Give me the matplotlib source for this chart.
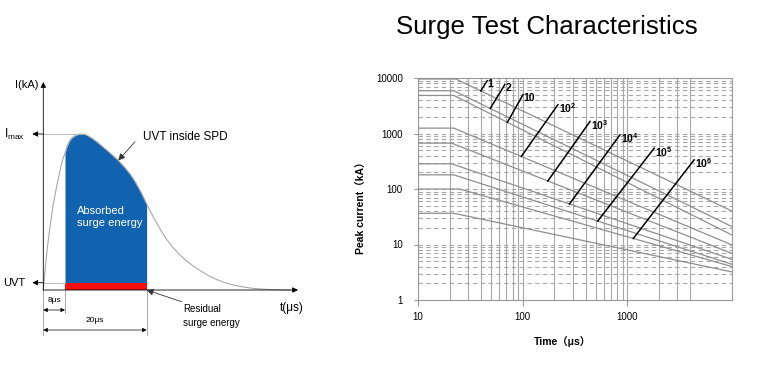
import numpy as np
import matplotlib.pyplot as plt
from matplotlib.ticker import FixedLocator, NullFormatter

plt.rcParams['font.family'] = ['Liberation Sans', 'Noto Sans CJK SC', 'DejaVu Sans']
plt.rcParams['mathtext.fontset'] = 'custom'
plt.rcParams['mathtext.rm'] = 'Liberation Sans'
plt.rcParams['mathtext.bf'] = 'Liberation Sans:bold'

# left panel: surge current waveform (schematic, arbitrary units)
wave_t = [0, 2, 4, 6.7, 10, 13.3, 16, 18.3, 20, 21.7, 23.3, 25, 26.7, 29, 31.7, 35, 38.3,
          41.7, 45, 49, 53.3, 58, 63.3, 69, 75, 81, 86.7, 92, 96.7, 100, 103.3,
          110, 116.7, 123, 130, 136.7, 143.3, 150, 156.7, 165, 173.3, 181.7, 190,
          200, 210, 220, 230, 246.7]
wave_i = [0, 22, 42, 63.3, 86, 103.3, 116, 126.7, 132, 136.7, 142.5, 146.5, 150, 152.5, 154.3, 155.6, 156,
          155.6, 154, 151.5, 148.3, 144.5, 140, 135, 129.5, 123, 116, 108, 99.5, 93, 86,
          73, 61, 51, 42, 35, 29, 24, 19.5, 14.5, 10.5, 7.3, 5,
          3, 1.6, 0.8, 0.3, 0]
t_on = 21.7      # 8 us mark
t_off = 103.3    # 20 us mark
uvt_level = 7.3

# right panel: surge life curves
surge_counts = ['1', '2', '10', r'$\mathbf{10^{2}}$', r'$\mathbf{10^{3}}$',
                r'$\mathbf{10^{4}}$', r'$\mathbf{10^{5}}$', r'$\mathbf{10^{6}}$', None]
t_knee = [23, 22, 22, 22, 21, 21, 22, 25, 22]
i_start = [9600, 5900, 4850, 1250, 670, 284, 180, 100, 36.5]
i_end = [40, 21, 14.8, 9.8, 6.9, 5.4, 4.4, 4.0, 3.2]
t_start, t_end = 10, 10000
lead_t0 = [39.8, 49, 71.4, 97, 174, 280, 521, 1140]
lead_t1 = [45.8, 67.4, 100.7, 217, 440, 851, 1807, 4347]
lead_i1 = [8940, 7570, 5000, 3300, 1650, 948, 545, 335]

x_ticks = [10, 100, 1000]
y_ticks = [1, 10, 100, 1000, 10000]

fig = plt.figure(figsize=(7.63, 3.69), dpi=100)
fig.text(547 / 763, 1 - 27 / 369, 'Surge Test Characteristics', fontsize=18.6,
         ha='center', va='center')

# ---------------- left schematic ----------------
ax1 = fig.add_axes([0, 0, 330 / 763, 1])
ax1.set_xlim(-43.3, 330 - 43.3)
ax1.set_ylim(-79, 290)
ax1.axis('off')

t = np.array(wave_t)
cur = np.array(wave_i)
inside = (t >= t_on) & (t <= t_off)
ax1.fill_between(t, uvt_level, cur, where=inside, color='#1163b0', lw=0)
ax1.fill_between(t, 0, uvt_level, where=inside, color='#fb0d0d', lw=0)
ax1.plot(t, cur, color='#a8a8a8', lw=0.8)

black_arrow = dict(arrowstyle='-|>', color='black', lw=0.6, mutation_scale=8,
                   shrinkA=0, shrinkB=0)
ax1.annotate('', xy=(0, 208), xytext=(0, 0), arrowprops=black_arrow)
ax1.annotate('', xy=(254.7, 0), xytext=(0, 0), arrowprops=black_arrow)
ax1.text(-5, 205, 'I(kA)', fontsize=8, ha='right', va='center')
ax1.text(236.7, -18.3, 't(μs)', fontsize=8.5, ha='left', va='center')

i_max = cur.max()
t_peak = t[np.argmax(cur)]
ax1.plot([0, t_peak], [i_max, i_max], color='#b0b0b0', lw=0.6)
ax1.annotate('', xy=(-11, i_max), xytext=(0, i_max), arrowprops=black_arrow)
ax1.text(-18, i_max, r'I$_{\mathregular{max}}$', fontsize=8.5,
         ha='right', va='center')
ax1.plot([0, t_on], [uvt_level, uvt_level], color='#b0b0b0', lw=0.6)
ax1.annotate('', xy=(-11, uvt_level), xytext=(0, uvt_level), arrowprops=black_arrow)
ax1.text(-18, uvt_level, 'UVT', fontsize=8, ha='right', va='center')

# dimension lines
ax1.plot([0, 0], [0, -45], color='#999999', lw=0.6)
ax1.plot([t_on, t_on], [0, -23], color='#999999', lw=0.6)
ax1.plot([t_off, t_off], [0, -45], color='#999999', lw=0.6)
dim_arrow = dict(arrowstyle='<|-|>', color='black', lw=0.5, mutation_scale=6,
                 shrinkA=0, shrinkB=0)
ax1.annotate('', xy=(0, -20), xytext=(t_on, -20), arrowprops=dim_arrow)
ax1.annotate('', xy=(0, -40), xytext=(t_off, -40), arrowprops=dim_arrow)
ax1.text(t_on / 2, -10.7, '8μs', fontsize=6, ha='center', va='center')
ax1.text(t_off / 2, -30.7, '20μs', fontsize=6, ha='center', va='center')

ax1.text(34, 73, 'Absorbed\nsurge energy', fontsize=8, color='white',
         ha='left', va='center', linespacing=1.35)
ax1.text(100, 152.7, 'UVT inside SPD', fontsize=8.5, ha='left', va='center')
ax1.annotate('', xy=(75, 129.5), xytext=(91.7, 148.3),
             arrowprops=dict(arrowstyle='-|>', color='#333333', lw=0.6, mutation_scale=10,
                             shrinkA=0, shrinkB=0))
ax1.text(140, -26, 'Residual\nsurge energy', fontsize=7, ha='left',
         va='center', linespacing=1.45)
ax1.annotate('', xy=(t_off, 0), xytext=(138.3, -11.7),
             arrowprops=dict(arrowstyle='-|>', color='#333333', lw=0.6, mutation_scale=10,
                             shrinkA=0, shrinkB=0))

# ---------------- right chart ----------------
ax2 = fig.add_axes([418 / 763, 1 - 300 / 369, 314 / 763, 222 / 369])
ax2.set_xscale('log')
ax2.set_yscale('log')

for lab, tk, s, e in zip(surge_counts, t_knee, i_start, i_end):
    ax2.plot([t_start, tk, t_end], [s, s, e], color='#8f8f8f', lw=0.9, zorder=3)

for k, lab in enumerate(surge_counts[:8]):
    lx = np.log10([t_start, t_knee[k], t_end])
    ly = np.log10([i_start[k], i_start[k], i_end[k]])
    y0 = 10 ** np.interp(np.log10(lead_t0[k]), lx, ly)
    ax2.plot([lead_t0[k], lead_t1[k]], [y0, lead_i1[k]], color='black', lw=1.1, zorder=4)
    ax2.annotate(lab, (lead_t1[k], lead_i1[k]), xytext=(0.5, -2.5), textcoords='offset points',
                 fontsize=7.5, fontweight='bold', ha='left', va='center', zorder=5)

ax2.set_xlim(t_start, t_end)
ax2.set_ylim(1, 10000)
ax2.set_xticks(x_ticks)
ax2.set_xticklabels([str(v) for v in x_ticks])
ax2.set_yticks(y_ticks)
ax2.set_yticklabels([str(v) for v in y_ticks])
ax2.xaxis.set_minor_locator(FixedLocator([m * 10 ** d for d in (1, 2) for m in range(2, 10)]
                                         + [2000, 3000, 4000]))
ax2.yaxis.set_minor_locator(FixedLocator([m * 10 ** d for d in range(4) for m in range(2, 10)]))
ax2.xaxis.set_minor_formatter(NullFormatter())
ax2.yaxis.set_minor_formatter(NullFormatter())
ax2.tick_params(which='minor', length=0)
ax2.tick_params(axis='x', which='major', length=4, color='#999999', labelsize=7, pad=5)
ax2.tick_params(axis='y', which='major', length=3, color='#999999', labelsize=7, pad=8)

ax2.grid(axis='x', which='both', color='#a8a8a8', lw=0.8, ls='-')
ax2.grid(axis='y', which='both', color='#a8a8a8', lw=0.8, ls=(0, (4, 3)))
for sp in ax2.spines.values():
    sp.set_color('#999999')
    sp.set_linewidth(0.8)

fig.text(562 / 763, 1 - 341.7 / 369, 'Time（μs）', fontsize=7.5, fontweight='bold',
         ha='center', va='center')
fig.text(362 / 763, 1 - 205.7 / 369, 'Peak current（kA）', fontsize=7.5, fontweight='bold',
         rotation=90, ha='center', va='center')

fig.savefig('out.png', dpi=100)
